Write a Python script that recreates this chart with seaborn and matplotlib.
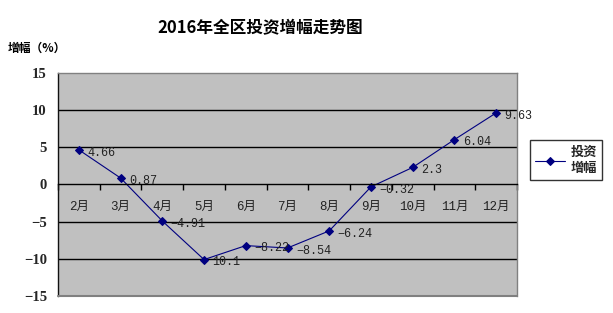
import matplotlib
matplotlib.use("Agg")
import matplotlib.pyplot as plt
import seaborn as sns
import pandas as pd
import numpy as np

months = ["2月", "3月", "4月", "5月", "6月", "7月", "8月", "9月", "10月", "11月", "12月"]
growth = [4.66, 0.87, -4.91, -10.1, -8.22, -8.54, -6.24, -0.32, 2.3, 6.04, 9.63]
point_labels = ["4.66", "0.87", "−4.91", "10.1", "−8.22", "−8.54", "−6.24", "−0.32", "2.3", "6.04", "9.63"]
yticks = [-15, -10, -5, 0, 5, 10, 15]
title = "2016年全区投资增幅走势图"
ylabel = "增幅（%）"
series_name = "投资\n增幅"

sns.set_theme(style="white")
cjk = ["Noto Sans CJK SC", "DejaVu Sans"]
mono = ["Liberation Mono", "Noto Sans CJK SC", "DejaVu Sans"]
plt.rcParams["font.family"] = cjk
plt.rcParams["axes.unicode_minus"] = True

df = pd.DataFrame({"month": months, "growth": growth})

fig = plt.figure(figsize=(6.13, 3.13), dpi=100)
fig.patch.set_facecolor("white")
ax = fig.add_axes([58 / 613, 1 - 296 / 313, (517 - 58) / 613, (296 - 73) / 313])
ax.set_facecolor("#C0C0C0")

sns.lineplot(data=df, x="month", y="growth", ax=ax, sort=False, color="#000080",
             marker="D", markersize=4, markeredgecolor="#000080", linewidth=0.8,
             label=series_name, legend=False)

ax.set_xlim(-0.5, len(months) - 0.5)
ax.set_ylim(-15, 15)
ax.set_yticks(yticks)
ax.set_yticklabels([str(v).replace("-", "−") for v in yticks], fontfamily="Liberation Serif",
                   fontweight="bold", fontsize=10.5)
ax.tick_params(axis="y", length=0, pad=8)

for v in [-10, -5, 5, 10]:
    ax.axhline(v, color="black", linewidth=1, zorder=1)

# x axis at zero
ax.spines["bottom"].set_position(("data", 0))
ax.spines["bottom"].set_color("black")
ax.spines["bottom"].set_linewidth(1)
ax.set_xticks(range(len(months)))
ax.set_xticklabels(months, fontfamily=mono, fontsize=9, color="#222222")
ax.set_xticks(np.arange(-0.5, len(months) - 0.4, 1.0), minor=True)
ax.tick_params(axis="x", which="major", length=0, pad=12)
ax.tick_params(axis="x", which="minor", length=4, direction="out", color="black", width=1, bottom=True)
ax.set_xlabel("")
ax.set_ylabel("")

for s in ["top", "right"]:
    ax.spines[s].set_color("#808080")
    ax.spines[s].set_linewidth(1)
ax.spines["left"].set_color("#111111")
ax.spines["left"].set_linewidth(1)
ax.axhline(-15, color="#808080", linewidth=1.5, clip_on=False, zorder=3)

for i, (v, t) in enumerate(zip(growth, point_labels)):
    ax.annotate(t, (i, v), xytext=(6, -2), textcoords="offset points",
                ha="left", va="center", fontsize=8.5, fontfamily=mono, color="#222222")

fig.text(260 / 613, 1 - 28 / 313, title, ha="center", va="center",
         fontsize=12, fontweight="heavy", color="black")
fig.text(8 / 613, 1 - 48 / 313, ylabel, ha="left", va="center",
         fontsize=8.5, fontweight="bold", color="black")

handles, labels = ax.get_legend_handles_labels()
leg = fig.legend(handles, labels, loc="center", bbox_to_anchor=(566 / 613, 1 - 160 / 313),
                 frameon=True, fancybox=False, handlelength=2.3, handletextpad=0.4,
                 borderpad=0.35, prop={"family": cjk, "weight": "bold", "size": 9.5})
leg.get_frame().set_edgecolor("black")
leg.get_frame().set_linewidth(1)
leg.get_frame().set_boxstyle("square", pad=0)

fig.savefig("out.png", dpi=100, facecolor="white")
